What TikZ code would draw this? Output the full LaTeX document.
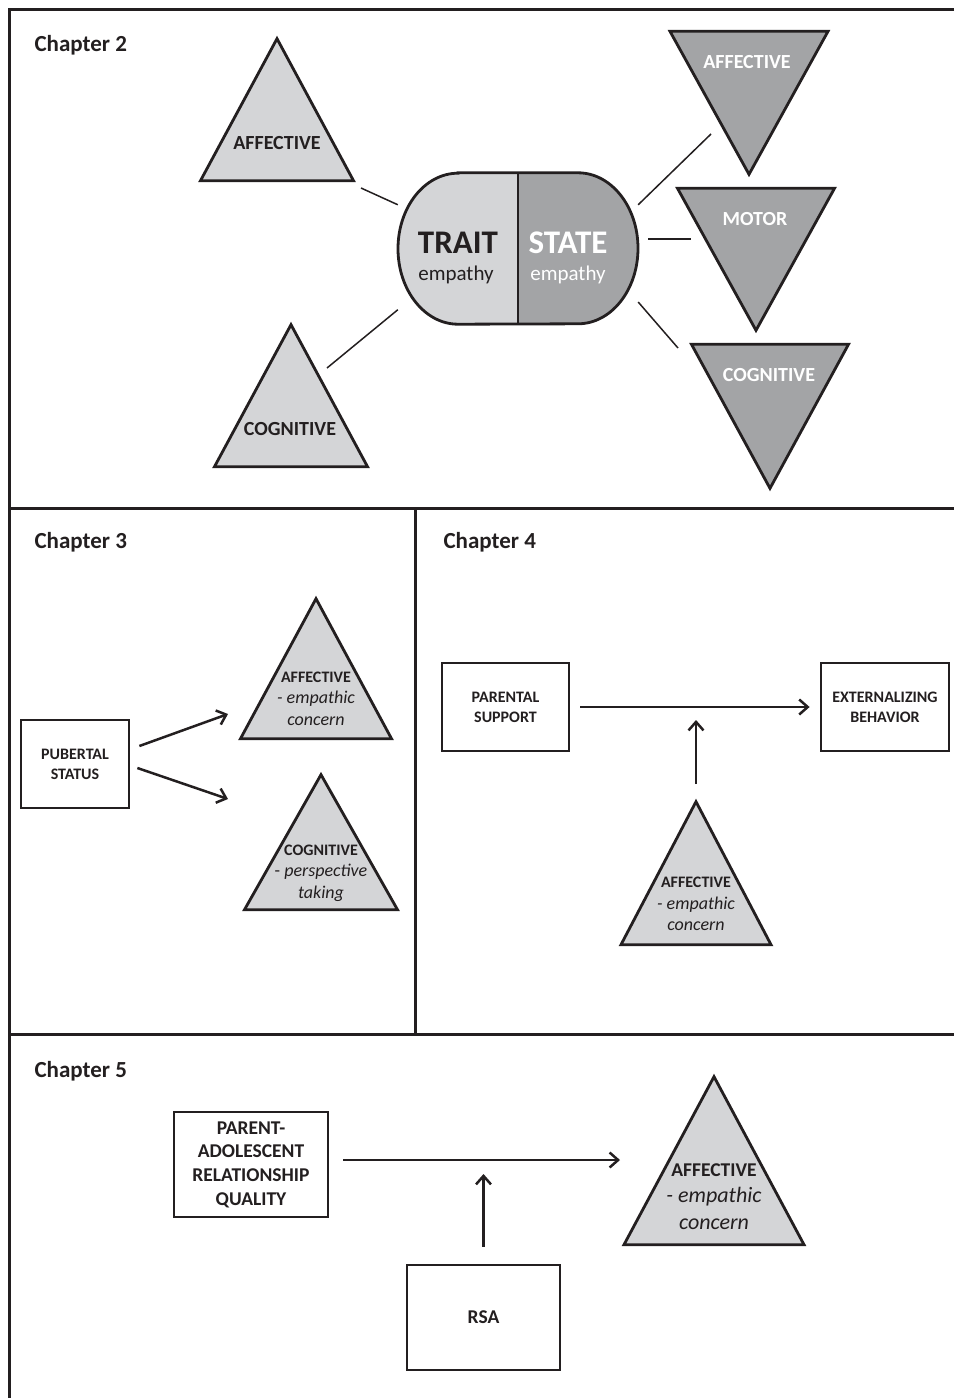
\documentclass[tikz,border=0pt]{standalone}
\usepackage{fontspec}
\setmainfont{Carlito}
\usetikzlibrary{shapes.geometric, arrows.meta, positioning, calc}
\definecolor{ink}{RGB}{35,31,32}
\definecolor{litefill}{RGB}{212,213,215}
\definecolor{darkfill}{RGB}{163,164,166}

\tikzset{
  frame/.style={draw=ink, line width=3pt},
  triup/.style={isosceles triangle, isosceles triangle stretches, shape border rotate=90,
    draw=ink, line width=2.8pt, fill=litefill, inner sep=0pt,
    minimum width=153pt, minimum height=142pt},
  tridown/.style={triup, shape border rotate=270, fill=darkfill},
  box/.style={draw=ink, line width=2.8pt, fill=white, align=center, inner sep=0pt, text=ink,
    font=\bfseries\fontsize{16}{20}\selectfont},
  chap/.style={anchor=base west, text=ink, font=\bfseries\fontsize{23}{27}\selectfont},
  tag/.style={text=ink, font=\bfseries\fontsize{20}{24}\selectfont},
  sub/.style={align=center, text=ink, font=\fontsize{18}{21.5}\selectfont},
  link/.style={draw=ink, line width=1.5pt},
  arr/.style={draw=ink, line width=2.5pt, -{Straight Barb[length=8.5pt, width=15pt, line width=2.5pt]}},
}

\begin{document}
\begin{tikzpicture}[x=1pt, y=-1pt]
  \useasboundingbox (0,0) rectangle (954,1398);

  % panel frame
  \draw[frame] (954,9) -- (9,9) -- (9,1398);
  \draw[frame] (9,508) -- (954,508);
  \draw[frame] (415,508) -- (415,1034);
  \draw[frame] (9,1034) -- (954,1034);

  \node[chap] (ch2) at (31,51.5) {Chapter 2};
  \node[chap] (ch3) at (31,548.5) {Chapter 3};
  \node[chap] (ch4) at (440,548.5) {Chapter 4};
  \node[chap] (ch5) at (31,1077.5) {Chapter 5};

  % chapter 2
  \node[minimum width=240pt, minimum height=151pt, inner sep=0pt] (pill) at (518,248.5) {};
  \fill[litefill] (pill.north) -- ++(-60,0) arc[start angle=90, end angle=270, x radius=60pt, y radius=75.5pt]
    -- (pill.south) -- cycle;
  \fill[darkfill] (pill.north) -- ++(60,0) arc[start angle=90, end angle=-90, x radius=60pt, y radius=75.5pt]
    -- (pill.south) -- cycle;
  \draw[ink, line width=2.8pt] ([xshift=-60pt]pill.north) -- ([xshift=60pt]pill.north)
    arc[start angle=90, end angle=-90, x radius=60pt, y radius=75.5pt]
    -- ([xshift=-60pt]pill.south)
    arc[start angle=270, end angle=90, x radius=60pt, y radius=75.5pt] -- cycle;
  \draw[ink, line width=2pt] (pill.north) -- (pill.south);
  \node[text=ink, font=\bfseries\fontsize{33}{36}\selectfont] (trait) at (458,243) {TRAIT};
  \node[text=ink, font=\fontsize{21}{24}\selectfont] (traitsub) at (456,275) {empathy};
  \node[text=white, font=\bfseries\fontsize{33}{36}\selectfont] (state) at (568,243) {STATE};
  \node[text=white, font=\fontsize{21}{24}\selectfont] (statesub) at (568,275) {empathy};

  \node[triup, anchor=apex] (affL) at (277,35) {};
  \node[triup, anchor=apex] (cogL) at (291,321) {};
  \node[tridown, anchor=apex, minimum width=158pt, minimum height=143pt] (affR) at (749,178) {};
  \node[tridown, anchor=apex, minimum width=157pt, minimum height=142pt] (motR) at (756,334) {};
  \node[tridown, anchor=apex, minimum width=157pt, minimum height=144pt] (cogR) at (770,492) {};

  \node[tag] (affLt) at (277,143) {AFFECTIVE};
  \node[tag] (cogLt) at (290,429) {COGNITIVE};
  \node[tag, text=white] (affRt) at (747,62) {AFFECTIVE};
  \node[tag, text=white] (motRt) at (755,219) {MOTOR};
  \node[tag, text=white] (cogRt) at (769,375) {COGNITIVE};

  \draw[link] ([shift={(84,153)}]affL.apex) -- (pill.160);
  \draw[link] ([shift={(36,47)}]cogL.apex) -- (pill.207);
  \draw[link] (pill.20) -- ([shift={(-38,-44)}]affR.apex);
  \draw[link] ([shift={(10,-9.5)}]pill.east) -- ([shift={(-65,-95)}]motR.apex);
  \draw[link] (pill.336) -- ([shift={(-92,-144)}]cogR.apex);

  % chapter 3
  \node[box, minimum width=108pt, minimum height=88pt] (pub) at (75,764) {PUBERTAL\\STATUS};
  \node[triup, anchor=apex, minimum width=151pt, minimum height=140pt] (affC3) at (316,595) {};
  \node[triup, anchor=apex, minimum width=153pt, minimum height=135pt] (cogC3) at (321,771) {};
  \node[sub] (affC3t) at (316,698.5) {{\bfseries\fontsize{16}{21.5}\selectfont AFFECTIVE}\\\textit{- empathic}\\\textit{concern}};
  \node[sub] (cogC3t) at (321,873) {{\bfseries\fontsize{16}{21.5}\selectfont COGNITIVE}\\- \textit{perspective}\\\textit{taking}};
  \draw[arr] ([shift={(9,-18)}]pub.east) -- ([shift={(-88,119)}]affC3.apex);
  \draw[arr] ([shift={(7,4)}]pub.east) -- ([shift={(-93,28)}]cogC3.apex);

  % chapter 4
  \node[box, minimum width=127pt, minimum height=88pt] (parsup) at (505.5,707) {PARENTAL\\SUPPORT};
  \node[box, minimum width=128pt, minimum height=88pt] (ext) at (885,707) {EXTERNALIZING\\BEHAVIOR};
  \node[triup, anchor=apex, minimum width=150pt, minimum height=143pt] (affC4) at (696,798) {};
  \node[sub] (affC4t) at (696,904) {{\bfseries\fontsize{16}{21.5}\selectfont AFFECTIVE}\\\textit{- empathic}\\\textit{concern}};
  \coordinate (hit4) at (696,707);
  \draw[arr, shorten <=10pt, shorten >=10pt] (parsup) -- (ext);
  \draw[arr, shorten <=14pt, shorten >=13pt] (affC4.apex) -- (hit4);

  % chapter 5
  \node[box, minimum width=154pt, minimum height=105pt, font=\bfseries\fontsize{19.5}{23.7}\selectfont]
    (relq) at (251,1164.5) {PARENT-\\ADOLESCENT\\RELATIONSHIP\\QUALITY};
  \node[box, minimum width=153pt, minimum height=105pt, font=\bfseries\fontsize{19.5}{23.7}\selectfont]
    (rsa) at (483.5,1317.5) {RSA};
  \node[triup, anchor=apex, minimum width=180pt, minimum height=168pt] (affC5) at (714,1073) {};
  \node[sub, font=\fontsize{22}{26.5}\selectfont] (affC5t) at (714,1196.5)
    {{\bfseries\fontsize{19.5}{26.5}\selectfont AFFECTIVE}\\\textit{- empathic}\\\textit{concern}};
  \coordinate (hit5) at (483.5,1160);
  \draw[arr, shorten <=14pt] (relq.east |- hit5) -- ([xshift=-94pt]hit5 -| affC5.apex);
  \draw[arr, shorten <=17pt, shorten >=14pt] (rsa.north) -- (hit5);
\end{tikzpicture}
\end{document}
